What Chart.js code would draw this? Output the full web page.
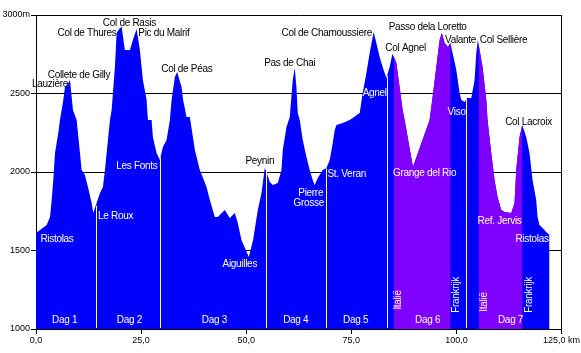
<!DOCTYPE html>
<html><head><meta charset="utf-8">
<script src="https://cdn.jsdelivr.net/npm/chart.js@4/dist/chart.umd.min.js"></script>
<style>html,body{margin:0;padding:0;background:#fff;} canvas{display:block}</style>
</head><body>
<canvas id="c" width="581" height="353"></canvas>
<script>
// ---- data ----
const distanceKm = [0.00,0.95,2.54,3.33,3.73,4.11,4.52,5.30,5.70,6.49,6.89,7.68,8.08,8.79,9.67,10.46,10.86,11.64,12.36,13.24,13.62,14.42,15.21,15.92,16.40,17.11,17.59,17.99,18.77,19.18,19.96,20.37,21.15,22.34,23.05,23.93,24.71,25.43,26.31,26.62,27.50,27.80,28.68,29.47,30.18,31.06,31.84,32.25,33.03,33.58,34.62,35.00,35.81,36.60,37.79,38.97,40.57,41.35,42.54,43.25,44.91,46.10,47.29,48.00,48.88,50.62,51.64,52.76,53.64,54.42,54.82,55.61,56.32,57.51,58.39,58.70,59.58,60.36,61.07,61.55,61.95,62.26,62.74,63.45,64.33,65.11,65.83,66.30,67.02,68.20,69.08,69.87,70.58,71.06,71.46,72.96,74.62,75.33,77.00,77.71,78.59,79.37,80.32,80.96,81.75,82.46,83.34,84.13,84.77,85.08,85.72,86.50,87.21,87.69,89.66,93.63,94.34,95.22,96.01,96.55,97.20,97.98,98.55,98.62,99.10,99.98,100.76,101.17,101.95,102.50,103.54,104.33,104.73,105.11,105.27,106.23,107.11,107.41,108.29,109.08,109.79,110.67,111.45,113.05,113.83,114.23,115.02,115.66,115.73,116.61,117.40,118.11,118.99,119.30,119.77,120.49,121.36,122.15];
const elevationM = [1612,1631,1663,1713,1822,1949,2121,2248,2331,2459,2541,2567,2586,2395,2331,2121,2013,1981,1904,1803,1739,1803,1866,1904,2013,2204,2331,2395,2669,2885,2917,2924,2777,2777,2841,2911,2777,2586,2459,2331,2331,2223,2121,2077,2159,2204,2331,2459,2605,2637,2541,2459,2350,2350,2140,2013,1904,1822,1713,1713,1758,1707,1739,1675,1567,1459,1567,1758,1866,2026,2000,1936,1917,1930,2013,2140,2287,2350,2586,2662,2541,2376,2331,2204,2096,2013,1949,1917,1962,2013,2026,2077,2185,2268,2299,2312,2331,2344,2376,2503,2631,2758,2892,2822,2733,2669,2599,2669,2752,2735,2694,2541,2395,2331,2032,2331,2478,2669,2841,2885,2822,2796,2822,2815,2758,2650,2503,2459,2446,2471,2471,2586,2758,2841,2815,2669,2459,2331,2121,1949,1841,1758,1745,1739,1803,2013,2223,2299,2295,2223,2121,1949,1822,1713,1663,1643,1618,1599];
const italySections = [[85.08, 98.62], [105.27, 115.73]];
const daySplitsKm = [14.2, 29.6, 54.6, 68.9, 83.5, 102.4];
const yAxisRange = [1000, 3000, 500];
const xAxisRange = [0, 125, 25];

// ---- annotations (text, km, elevation, colour, rotated) ----
const BLACK = '#000', WHITE = '#fff';
const placeLabels = [
  ['Lauzière', 3.33, 2561, BLACK], ['Collete de Gilly', 10.22, 2618, BLACK],
  ['Col de Thures', 12.12, 2885, BLACK], ['Col de Rasis', 22.22, 2949, BLACK],
  ['Pic du Malrif', 30.42, 2885, BLACK], ['Col de Péas', 35.88, 2656, BLACK],
  ['Pas de Chai', 60.36, 2694, BLACK], ['Col de Chamoussiere', 69.15, 2885, BLACK],
  ['Passo dela Loretto', 93.16, 2924, BLACK], ['Col Agnel', 87.93, 2790, BLACK],
  ['Valante', 100.99, 2841, BLACK], ['Col Sellière', 111.22, 2841, BLACK],
  ['Col Lacroix', 117.16, 2319, BLACK], ['Peynin', 53.23, 2070, BLACK],
  ['Agnel', 80.56, 2503, WHITE], ['Viso', 100.05, 2382, WHITE],
  ['Ristolas', 4.99, 1573, WHITE], ['Le Roux', 18.94, 1720, WHITE],
  ['Les Fonts', 24.0, 2038, WHITE], ['Aiguilles', 48.48, 1414, WHITE],
  ['Pierre', 65.35, 1866, WHITE], ['Grosse', 64.88, 1804, WHITE],
  ['St. Veran', 73.91, 1987, WHITE], ['Grange del Rio', 92.44, 1994, WHITE],
  ['Ref. Jervis', 110.27, 1688, WHITE], ['Ristolas', 117.99, 1573, WHITE],
  ['Dag 1', 6.82, 1057, WHITE], ['Dag 2', 22.22, 1057, WHITE], ['Dag 3', 42.42, 1057, WHITE],
  ['Dag 4', 61.79, 1057, WHITE], ['Dag 5', 76.05, 1057, WHITE], ['Dag 6', 93.16, 1057, WHITE],
  ['Dag 7', 112.88, 1057, WHITE],
  ['Italië', 86.26, 1185, WHITE, true], ['Italië', 106.70, 1172, WHITE, true],
  ['Frankrijk', 99.98, 1217, WHITE, true], ['Frankrijk', 117.40, 1217, WHITE, true]
];

const points = distanceKm.map((x, i) => ({x, y: elevationM[i]}));
const inItaly = x => italySections.some(([a, b]) => x >= a && x <= b);
const italyPoints = distanceKm.map((x, i) => ({x, y: inItaly(x) ? elevationM[i] : null}));

function elevAt(km) {
  for (let i = 1; i < distanceKm.length; i++) {
    if (km <= distanceKm[i]) {
      const t = (km - distanceKm[i-1]) / (distanceKm[i] - distanceKm[i-1]);
      return elevationM[i-1] + t * (elevationM[i] - elevationM[i-1]);
    }
  }
  return elevationM[elevationM.length - 1];
}

const overlay = {
  id: 'overlay',
  afterDatasetsDraw(chart) {
    const {ctx, scales: {x, y}} = chart;
    ctx.save();
    ctx.strokeStyle = '#fff';
    ctx.lineWidth = 1;
    daySplitsKm.forEach(km => {
      const px = Math.round(x.getPixelForValue(km)) + 0.5;
      ctx.beginPath();
      ctx.moveTo(px, y.getPixelForValue(yAxisRange[0]) - 1);
      ctx.lineTo(px, y.getPixelForValue(elevAt(km)));
      ctx.stroke();
    });
    ctx.restore();
  },
  afterDraw(chart) {
    const {ctx, scales: {x, y}} = chart;
    ctx.save();
    ctx.font = '10px "Liberation Sans", Arial, sans-serif';
    try { ctx.letterSpacing = '-0.3px'; } catch (e) {}
    ctx.textAlign = 'center';
    ctx.textBaseline = 'middle';
    placeLabels.forEach(([t, km, el, col, rot]) => {
      const px = x.getPixelForValue(km), py = y.getPixelForValue(el);
      ctx.fillStyle = col;
      if (rot) {
        ctx.save(); ctx.translate(px, py); ctx.rotate(-Math.PI / 2);
        ctx.fillText(t, 0, 0); ctx.restore();
      } else {
        ctx.fillText(t, px, py);
      }
    });
    ctx.restore();
  }
};

const tickFont = {family: '"Liberation Sans", Arial, sans-serif', size: 9};

new Chart(document.getElementById('c'), {
  type: 'line',
  data: {
    datasets: [
      {data: italyPoints, backgroundColor: '#8000FF', borderColor: 'transparent', borderWidth: 0,
       fill: 'start', pointRadius: 0, tension: 0, spanGaps: false, order: 0},
      {data: points, backgroundColor: '#0000FF', borderColor: 'transparent', borderWidth: 0,
       fill: 'start', pointRadius: 0, tension: 0, order: 1}
    ]
  },
  options: {
    responsive: false,
    animation: false,
    devicePixelRatio: 1,
    layout: {padding: {left: 0, top: 15, right: 19, bottom: 0}},
    plugins: {legend: {display: false}, tooltip: {enabled: false}},
    scales: {
      x: {
        type: 'linear', min: xAxisRange[0], max: xAxisRange[1],
        afterFit(s) { s.height = 24; },
        ticks: {stepSize: xAxisRange[2], color: '#000', font: tickFont, padding: 1, maxRotation: 0,
          callback: v => v.toFixed(1).replace('.', ',') + (v === xAxisRange[1] ? ' km' : '')},
        grid: {color: c => (c.tick && c.tick.value === xAxisRange[1]) ? '#000' : 'rgba(0,0,0,0)',
               tickColor: '#000', tickLength: 5, lineWidth: 1},
        border: {color: '#000', width: 1}
      },
      y: {
        min: yAxisRange[0], max: yAxisRange[1],
        afterFit(s) { s.width = 36; },
        ticks: {stepSize: yAxisRange[2], color: '#000', font: tickFont, padding: 1,
          callback: v => v === yAxisRange[1] ? v + 'm' : String(v)},
        grid: {color: '#000', tickColor: '#000', tickLength: 5, lineWidth: 1},
        border: {color: '#000', width: 1}
      }
    }
  },
  plugins: [overlay]
});
</script>
</body></html>
